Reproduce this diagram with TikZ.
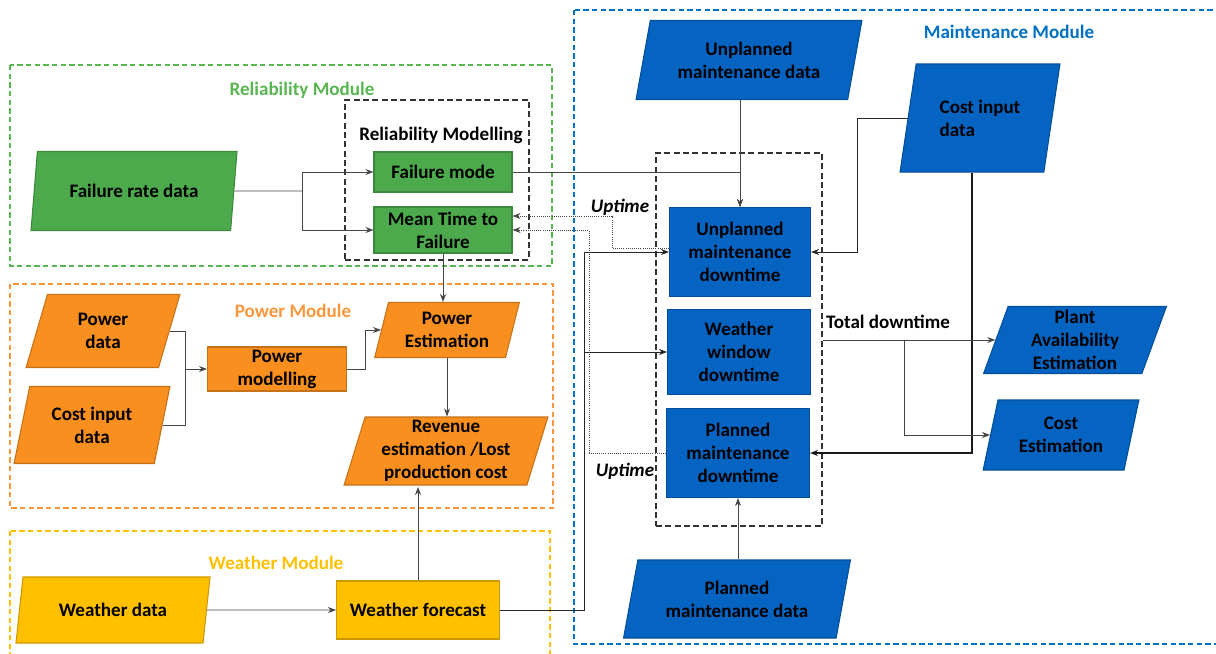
\documentclass[tikz,border=0pt]{standalone}
\usepackage{fontspec}
\setmainfont{Carlito}
\usetikzlibrary{arrows.meta,shapes.geometric}
\definecolor{RelGreen}{RGB}{76,170,76}
\definecolor{RelGreenTxt}{RGB}{88,182,80}
\definecolor{PwrOrange}{RGB}{248,143,30}
\definecolor{PwrOrangeTxt}{RGB}{250,150,60}
\definecolor{WxYellow}{RGB}{255,192,0}
\definecolor{MntBlue}{RGB}{5,99,193}
\definecolor{MntBlueTxt}{RGB}{0,112,192}
\definecolor{LineGrey}{RGB}{70,70,70}
\newcommand\pxl{0.75pt}

\begin{document}
\begin{tikzpicture}[x=0.75pt,y=-0.75pt,
  font=\fontsize{14.3}{17.2}\selectfont\bfseries,
  iobox/.style={trapezium, trapezium left angle=75, trapezium right angle=105,
    trapezium stretches=true, fill=#1, draw=#1!80!black, line width=0.8pt,
    align=center, inner sep=1pt},
  procbox/.style={rectangle, fill=#1, draw=#1!80!black, line width=0.8pt,
    align=center, inner sep=1pt},
  module/.style={draw=#1, line width=0.9pt, dash pattern=on 4pt off 2.5pt},
  groupbox/.style={draw=black!80, line width=0.9pt, dash pattern=on 4.5pt off 2.5pt},
  tag/.style={font=\fontsize{14.3}{17.2}\selectfont\bfseries\itshape},
  conn/.style={draw=LineGrey, line width=0.6pt, -{Stealth[length=6pt,width=4.5pt]}},
  upt/.style={conn, densely dotted},
]
  \useasboundingbox (0,0) rectangle (1216,653);
  \clip (0,0) rectangle (1216,653);

  % module frames
  \draw[module=RelGreenTxt] (10,65) rectangle (552,266);
  \draw[module=PwrOrangeTxt] (10,284) rectangle (553,508);
  \draw[module=WxYellow] (10,531) rectangle (550,670);
  \draw[module=MntBlueTxt] (574,10) rectangle (1230,644);

  \node[text=RelGreenTxt] (reltitle) at (302,90) {Reliability Module};
  \node[text=PwrOrangeTxt] (pwrtitle) at (293,311) {Power Module};
  \node[text=WxYellow] (wxtitle) at (276,563) {Weather Module};
  \node[text=MntBlueTxt] (mnttitle) at (1009,32) {Maintenance Module};

  % Reliability module
  \node[groupbox, minimum width=184*\pxl, minimum height=160*\pxl] (relgroup) at (437,180) {};
  \node (relmodlbl) at (441,135) {Reliability Modelling};
  \node[iobox=RelGreen, minimum width=206*\pxl, minimum height=79*\pxl] (frd) at (134,191) {Failure rate data};
  \node[procbox=RelGreen, minimum width=138*\pxl, minimum height=40*\pxl] (fmode) at (443,172) {Failure mode};
  \node[procbox=RelGreen, minimum width=138*\pxl, minimum height=46*\pxl] (mttf) at (443,230) {Mean Time to\\Failure};

  % Power module
  \node[iobox=PwrOrange, minimum width=154*\pxl, minimum height=73*\pxl] (pdata) at (103,331) {Power\\data};
  \node[iobox=PwrOrange, minimum width=157*\pxl, minimum height=77*\pxl] (cdata) at (92,425) {Cost input\\data};
  \node[procbox=PwrOrange, minimum width=139*\pxl, minimum height=44*\pxl] (pmod) at (277,369) {Power\\modelling};
  \node[iobox=PwrOrange, minimum width=145*\pxl, minimum height=55*\pxl] (pest) at (447,330) {Power\\Estimation};
  \node[iobox=PwrOrange, minimum width=204*\pxl, minimum height=68*\pxl] (rev) at (446,451) {Revenue\\estimation /Lost\\production cost};

  % Weather module
  \node[iobox=WxYellow, minimum width=195*\pxl, minimum height=66*\pxl] (wdata) at (113,610) {Weather data};
  \node[procbox=WxYellow, minimum width=163*\pxl, minimum height=58*\pxl] (wfc) at (418,610) {Weather forecast};

  % Maintenance module
  \node[groupbox, minimum width=166*\pxl, minimum height=373*\pxl] (dtgroup) at (739,339.5) {};
  \node[iobox=MntBlue, minimum width=226*\pxl, minimum height=79*\pxl] (umdata) at (749,60) {Unplanned\\maintenance data};
  \node[iobox=MntBlue, minimum width=161*\pxl, minimum height=108*\pxl, align=left] (ccost) at (980,118) {Cost input\\data};
  \node[procbox=MntBlue, minimum width=141*\pxl, minimum height=89*\pxl] (umdt) at (740,252) {Unplanned\\maintenance\\downtime};
  \node[procbox=MntBlue, minimum width=143*\pxl, minimum height=85*\pxl] (wwdt) at (739,352) {Weather\\window\\downtime};
  \node[procbox=MntBlue, minimum width=143*\pxl, minimum height=89*\pxl] (pmdt) at (738,453) {Planned\\maintenance\\downtime};
  \node[iobox=MntBlue, minimum width=184*\pxl, minimum height=67*\pxl] (plant) at (1075,340) {Plant\\Availability\\Estimation};
  \node[iobox=MntBlue, minimum width=156*\pxl, minimum height=70*\pxl] (cest) at (1061,435) {Cost\\Estimation};
  \node[iobox=MntBlue, minimum width=227*\pxl, minimum height=78*\pxl] (pmdata) at (737,599) {Planned\\maintenance data};

  \node[tag] (uptimeA) at (620,207) {Uptime};
  \node[tag] (uptimeB) at (625,471) {Uptime};
  \node (totdt) at (888,322) {Total downtime};

  % split / join points
  \coordinate (frsplit) at (302,191);
  \coordinate (pjoin) at (185,369);
  \coordinate (tdsplit) at (904,340);
  \coordinate (wfup) at (418,487);
  \path (wfc.east) ++(84,0) coordinate (wfbus);

  % reliability links
  \draw[LineGrey, line width=0.6pt] (frd.east) -- (frsplit);
  \draw[conn] (frsplit) |- (fmode.west);
  \draw[conn] (frsplit) |- (mttf.west);
  \draw[conn] (fmode.east) -| (umdt.north);
  \draw[conn] (mttf.south) -- (mttf.south |- pest.north);

  % power links
  \draw[LineGrey, line width=0.6pt] (pdata.east) -| (pjoin);
  \draw[LineGrey, line width=0.6pt] (cdata.east) -| (pjoin);
  \draw[conn] (pjoin) -- (pmod.west);
  \draw[conn] (pmod.east) -- ++(18,0) |- (pest.west);
  \draw[conn] (pest.south) -- (pest.south |- rev.north);

  % weather links
  \draw[conn] (wdata.east) -- (wfc.west);
  \draw[conn] (wfc.north) -- (wfup);
  \draw[conn, draw=black!85] (wfc.east) -- (wfbus) |- (umdt.west);
  \draw[conn, draw=black!85] (wfbus) |- (wwdt.west);

  % uptime feedback
  \draw[upt] ([yshift=2.5pt]umdt.west) -- ++(-57,0) |- ([yshift=10.5pt]mttf.east);
  \draw[upt] (pmdt.west) -- ++(-77,0) |- (mttf.east);

  % maintenance links
  \draw[conn] (umdt.north |- umdata.south) -- (umdt.north);
  \draw[conn, draw=black!85] (ccost.left side) -- ++(-50,0) |- (umdt.east);
  \draw[conn, draw=black!90, line width=1pt] (ccost.bottom side) |- (pmdt.east);
  \draw[conn] (pmdt.south |- pmdata.north) -- (pmdt.south);
  \draw[conn] (dtgroup.east |- plant.left side) -- (plant.left side);
  \draw[conn] (tdsplit) |- (cest.left side);
\end{tikzpicture}
\end{document}
